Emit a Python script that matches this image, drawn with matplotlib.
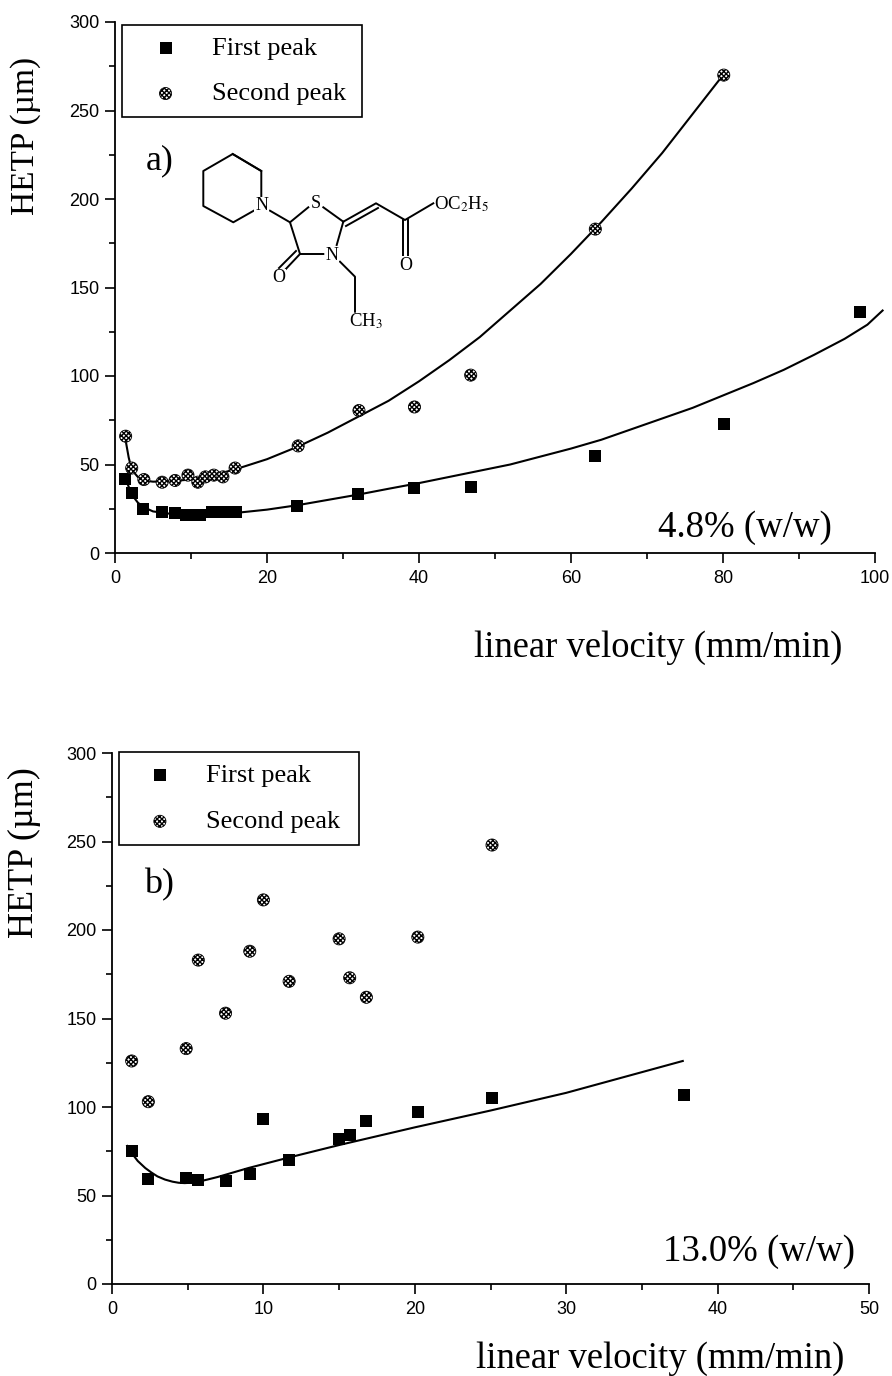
import matplotlib
matplotlib.use("Agg")
import matplotlib.pyplot as plt
from matplotlib.ticker import MultipleLocator

# panel a data
a_x = [1.3, 2.2, 3.7, 6.2, 7.9, 9.3, 10.2, 11.2, 12.7, 13.7, 14.8, 15.9, 24, 32, 39.4, 46.8, 63.2, 80.1, 98]
a_first = [42, 34, 25, 23, 22.5, 21.5, 21.5, 21.5, 23, 23, 23, 23, 26.5, 33.5, 37, 37.5, 55, 73, 136]
a_x2 = [1.4, 2.2, 3.8, 6.2, 7.9, 9.6, 10.9, 11.9, 13, 14.2, 15.8, 24.1, 32.1, 39.4, 46.8, 63.2, 80.1]
a_second = [66, 48, 41.5, 40, 41, 44, 40, 43, 44, 43, 48, 60.5, 80.5, 82.5, 100.5, 183, 270]

# fitted curves panel a
a_fit1_x = [1.3, 2.2, 3, 3.7, 5, 7, 10, 13, 16, 20, 24, 28, 32, 36, 40, 44, 48, 52, 56, 60, 64, 68, 72, 76, 80, 84, 88, 92, 96, 99, 101]
a_fit1_y = [43, 33, 28.5, 26, 23.5, 22.3, 21.8, 22, 22.7, 24.5, 27, 30, 33, 36.3, 39.5, 43, 46.5, 50, 54.5, 59, 64, 70, 76, 82, 89, 96, 103.5, 112, 121, 129, 137]
a_fit2_x = [1.3, 1.8, 2.2, 3, 3.7, 5, 7, 10, 13, 16, 20, 24, 28, 32, 36, 40, 44, 48, 52, 56, 60, 64, 68, 72, 76, 80]
a_fit2_y = [66, 54, 47, 43, 41, 40.3, 40.5, 41.5, 44, 47.5, 53, 60, 68, 77, 86, 97, 109, 122, 137, 152, 169, 187, 206, 226, 248, 270]

# panel b data
b_x = [1.3, 2.4, 4.9, 5.7, 7.5, 9.1, 10, 11.7, 15, 15.7, 16.8, 20.2, 25.1, 37.8]
b_first = [75, 59.5, 60, 59, 58, 62, 93, 70, 82, 84, 92, 97, 105, 107]
b_x2 = [1.3, 2.4, 4.9, 5.7, 7.5, 9.1, 10, 11.7, 15, 15.7, 16.8, 20.2, 25.1]
b_second = [126, 103, 133, 183, 153, 188, 217, 171, 195, 173, 162, 196, 248]
b_fit_x = [1.0, 1.3, 1.7, 2.2, 2.6, 3, 3.5, 4, 4.4, 4.8, 5.2, 5.7, 6.3, 7, 8, 9, 11.7, 15, 20, 25, 30, 37.7]
b_fit_y = [78, 74, 69.5, 65.5, 63, 60.8, 59, 57.8, 57.2, 57, 57.2, 57.8, 59, 60.5, 63, 65.5, 71.5, 78.5, 88.5, 98, 108, 126]

# molecule, picture pixels
bonds = [
    [(232.7, 154), (261.3, 171), (261.3, 196)],
    [(261.3, 171), (232.7, 154), (203.3, 171), (203.3, 206), (233.3, 222.3), (255, 210)],
    [(270, 210.7), (290, 222.3), (308.3, 207.3)],
    [(323.3, 207.3), (343.3, 221.7)],
    [(343.3, 221.7), (376, 203.3), (405, 220), (433.3, 203.3)],
    [(346, 226), (378, 208)],
    [(343.3, 221.7), (336.7, 245)],
    [(323.3, 254), (300, 254), (290, 222.3)],
    [(300, 254), (283.3, 271.7)],
    [(296, 251), (279, 268)],
    [(340, 261.7), (355, 276.7), (355, 311.7)],
    [(403, 220), (403, 256.7)],
    [(407.5, 220), (407.5, 256.7)],
]
atoms = [
    ("N", 261.5, 206), ("S", 316, 204), ("N", 332, 255),
    ("O", 279, 278), ("O", 405.5, 265),
]

plt.rcParams["font.family"] = ["Liberation Serif", "DejaVu Serif"]
plt.rcParams["hatch.linewidth"] = 1.0
W, H = 892, 1376
fig = plt.figure(figsize=(W / 100, H / 100), dpi=100)


def make_axes(x0, x1, ytop, ybot, xmax, xmaj, xmin):
    ax = fig.add_axes([x0 / W, 1 - ybot / H, (x1 - x0) / W, (ybot - ytop) / H])
    ax.set_xlim(0, xmax)
    ax.set_ylim(0, 300)
    ax.spines["top"].set_visible(False)
    ax.spines["right"].set_visible(False)
    ax.spines["left"].set_linewidth(1.3)
    ax.spines["bottom"].set_linewidth(1.3)
    ax.xaxis.set_major_locator(MultipleLocator(xmaj))
    ax.xaxis.set_minor_locator(MultipleLocator(xmin))
    ax.yaxis.set_major_locator(MultipleLocator(50))
    ax.yaxis.set_minor_locator(MultipleLocator(25))
    ax.tick_params(which="major", length=7.5, width=1.2, pad=3.5)
    ax.tick_params(axis="x", which="major", pad=5)
    ax.tick_params(which="minor", length=4.5, width=1.2)
    for lab in ax.get_xticklabels() + ax.get_yticklabels():
        lab.set_family("Liberation Sans")
        lab.set_fontsize(13)
    return ax


def draw_points(ax, x1, y1, x2, y2):
    ax.scatter(x1, y1, marker="s", s=82, color="black", linewidths=0,
               clip_on=False, zorder=3, label="First peak")
    ax.scatter(x2, y2, marker="o", s=76, facecolor="white", edgecolor="black",
               hatch="xxxxxxx", linewidths=0.6, clip_on=False, zorder=3,
               label="Second peak")


# ---- panel a ----
ax1 = make_axes(115, 875, 22, 553, 100, 20, 10)
ax1.plot(a_fit1_x, a_fit1_y, color="black", lw=1.5, clip_on=False, zorder=2)
ax1.plot(a_fit2_x, a_fit2_y, color="black", lw=1.5, clip_on=False, zorder=2)
draw_points(ax1, a_x, a_first, a_x2, a_second)
leg1 = ax1.legend(loc="upper left", bbox_to_anchor=(122 / W, 1 - 117 / H, 240 / W, 92 / H),
                  bbox_transform=fig.transFigure, mode="expand", fontsize=19, frameon=True,
                  fancybox=False, framealpha=1, edgecolor="black", borderaxespad=0,
                  handlelength=2.4, handletextpad=0.57, labelspacing=0.82, borderpad=0.45)
leg1.get_frame().set_linewidth(1.2)
fig.text(146 / W, 1 - 169 / H, "a)", fontsize=26)
fig.text(658 / W, 1 - 537 / H, "4.8% (w/w)", fontsize=26.5)
fig.text(842 / W, 1 - 657 / H, "linear velocity (mm/min)", fontsize=26.4, ha="right")
fig.text(26 / W, 1 - 136 / H, "HETP (µm)", fontsize=24, rotation=90, ha="center", va="center")

# ---- panel b ----
ax2 = make_axes(112, 869, 753, 1284, 50, 10, 5)
ax2.plot(b_fit_x, b_fit_y, color="black", lw=1.5, clip_on=False, zorder=2)
draw_points(ax2, b_x, b_first, b_x2, b_second)
leg2 = ax2.legend(loc="upper left", bbox_to_anchor=(119 / W, 1 - 844 / H, 240 / W, 92 / H),
                  bbox_transform=fig.transFigure, mode="expand", fontsize=19, frameon=True,
                  fancybox=False, framealpha=1, edgecolor="black", borderaxespad=0,
                  handlelength=2.2, handletextpad=0.64, labelspacing=0.85, borderpad=0.45)
leg2.get_frame().set_linewidth(1.2)
fig.text(144 / W, 1 - 893 / H, "b)", fontsize=26)
fig.text(663 / W, 1 - 1261 / H, "13.0% (w/w)", fontsize=26.5)
fig.text(844 / W, 1 - 1368 / H, "linear velocity (mm/min)", fontsize=26.4, ha="right")
fig.text(24 / W, 1 - 853 / H, "HETP (µm)", fontsize=26, rotation=90, ha="center", va="center")

# ---- molecule, overlay in pixel coords ----
mol = fig.add_axes([0, 0, 1, 1], facecolor="none")
mol.set_xlim(0, W)
mol.set_ylim(H, 0)
mol.axis("off")
for b in bonds:
    mol.plot([p[0] for p in b], [p[1] for p in b], color="black", lw=1.4)
for s, x, y in atoms:
    mol.text(x, y, s, fontsize=13, ha="center", va="center", color="black",
             bbox=dict(facecolor="white", edgecolor="none", pad=0.5))
mol.text(434, 204, "OC$_2$H$_5$", fontsize=13.5, ha="left", va="center", math_fontfamily="stix")
mol.text(349, 321, "CH$_3$", fontsize=13.5, ha="left", va="center", math_fontfamily="stix")

fig.savefig("out.png", dpi=100)
